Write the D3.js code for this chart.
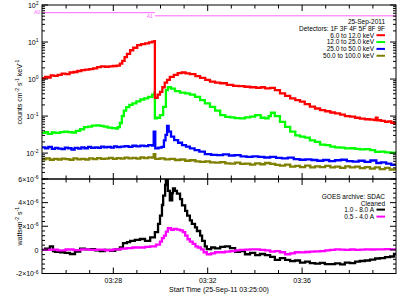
<!DOCTYPE html>
<html>
<head>
<meta charset="utf-8">
<script src="https://d3js.org/d3.v7.min.js"></script>
<style>
  body { margin: 0; background: white; }
  svg { font-family: "Liberation Sans", Arial, sans-serif; }
  text { fill: #000; }
</style>
</head>
<body>
<svg id="chart" width="411" height="299"></svg>
<script>
// times are seconds after 03:25:00 UT on 25-Sep-2011
const bandLabels = ["6.0 to 12.0 keV", "12.0 to 25.0 keV", "25.0 to 50.0 keV", "50.0 to 100.0 keV"];
const goesLabels = ["1.0 - 8.0 A", "0.5 - 4.0 A"];
const xTickLabels = ["03:28", "03:32", "03:36"];
const attStates = ["A0", "A1"];
const attTimes = [0, 287];

const redT = [0, 8, 15, 22, 30, 40, 50, 60, 70, 80, 90, 100, 110, 120, 130, 140, 150, 160, 170, 180, 190, 198, 204, 210, 216, 224, 232, 242, 252, 262, 272, 280, 286, 287, 294, 300, 306, 312, 318, 325, 335, 345, 355, 365, 376, 390, 402, 415, 427, 440, 453, 470, 486, 500, 515, 529, 545, 556, 567, 580, 592, 605, 618, 631, 644, 656, 668, 681, 694, 707, 720, 733, 745, 758, 770, 783, 796, 808, 821, 834, 845, 849, 853, 862, 872, 880, 888, 897];
const redV = [1.05, 1.15, 1.1, 1.25, 1.22, 1.3, 1.4, 1.35, 1.5, 1.55, 1.65, 1.75, 1.8, 1.85, 1.95, 2.1, 2.2, 2.15, 2.2, 2.25, 2.3, 2.6, 3.1, 3.9, 4.8, 6.0, 7.0, 8.2, 8.8, 9.2, 9.8, 10.2, 10.6, 0.31, 0.38, 0.45, 0.6, 0.8, 0.95, 1.15, 1.3, 1.45, 1.5, 1.42, 1.36, 1.2, 1.08, 0.95, 0.85, 0.8, 0.77, 0.7, 0.65, 0.64, 0.62, 0.6, 0.58, 0.6, 0.56, 0.58, 0.5, 0.41, 0.35, 0.3, 0.27, 0.245, 0.21, 0.18, 0.16, 0.145, 0.135, 0.125, 0.118, 0.11, 0.1, 0.096, 0.09, 0.085, 0.082, 0.08, 0.078, 0.09, 0.077, 0.074, 0.07, 0.072, 0.066, 0.064];

const greenT = [0, 8, 15, 25, 35, 46, 56, 66, 76, 86, 97, 107, 117, 127, 137, 147, 157, 167, 178, 188, 193, 198, 203, 208, 214, 222, 230, 240, 250, 260, 270, 280, 286, 287, 292, 300, 308, 315, 320, 328, 338, 351, 364, 376, 389, 402, 414, 427, 440, 453, 466, 478, 490, 503, 516, 529, 542, 556, 567, 576, 582, 592, 605, 618, 631, 644, 656, 668, 681, 694, 707, 720, 733, 745, 758, 770, 783, 796, 808, 821, 834, 847, 860, 872, 885];
const greenV = [0.035, 0.037, 0.033, 0.036, 0.035, 0.037, 0.038, 0.037, 0.036, 0.04, 0.044, 0.05, 0.052, 0.055, 0.056, 0.054, 0.052, 0.049, 0.047, 0.046, 0.05, 0.065, 0.1, 0.14, 0.175, 0.2, 0.22, 0.25, 0.28, 0.3, 0.33, 0.38, 0.43, 0.087, 0.09, 0.106, 0.178, 0.5, 0.6, 0.55, 0.47, 0.43, 0.41, 0.38, 0.33, 0.27, 0.22, 0.178, 0.14, 0.106, 0.095, 0.092, 0.088, 0.087, 0.092, 0.096, 0.106, 0.09, 0.087, 0.1, 0.123, 0.1, 0.07, 0.051, 0.038, 0.03, 0.028, 0.026, 0.022, 0.02, 0.017, 0.0164, 0.015, 0.0143, 0.014, 0.0134, 0.0135, 0.013, 0.0126, 0.0128, 0.012, 0.0108, 0.011, 0.0105, 0.0102];

const blueT = [0, 8, 16, 25, 33, 41, 50, 58, 66, 75, 83, 92, 100, 108, 117, 125, 134, 142, 150, 158, 166, 175, 183, 191, 200, 210, 220, 230, 240, 250, 260, 270, 280, 284, 288, 296, 304, 310, 314, 318, 322, 328, 336, 346, 356, 366, 376, 388, 400, 414, 430, 445, 460, 475, 490, 505, 520, 535, 550, 565, 580, 595, 610, 625, 640, 655, 670, 685, 700, 715, 730, 745, 760, 775, 790, 805, 820, 835, 850, 862, 875, 888];
const blueV = [0.0143, 0.0135, 0.0148, 0.013, 0.0138, 0.0132, 0.0128, 0.014, 0.0135, 0.0125, 0.0138, 0.0132, 0.0142, 0.0135, 0.0148, 0.0138, 0.0143, 0.0138, 0.015, 0.0142, 0.0148, 0.014, 0.0152, 0.0145, 0.015, 0.0155, 0.0148, 0.0158, 0.0152, 0.016, 0.0155, 0.0165, 0.016, 0.038, 0.0134, 0.014, 0.0148, 0.022, 0.031, 0.054, 0.038, 0.028, 0.0225, 0.019, 0.0165, 0.015, 0.0134, 0.012, 0.011, 0.0094, 0.009, 0.0088, 0.0092, 0.0086, 0.0088, 0.0082, 0.0079, 0.0081, 0.0079, 0.0076, 0.0079, 0.0074, 0.0072, 0.0075, 0.0069, 0.0066, 0.0068, 0.0065, 0.0062, 0.0065, 0.0061, 0.0064, 0.0066, 0.0061, 0.0059, 0.0062, 0.0058, 0.0063, 0.0054, 0.0056, 0.0052, 0.0048];

const oliveT = [0, 10, 20, 30, 40, 50, 60, 70, 80, 90, 100, 110, 120, 130, 140, 150, 160, 170, 180, 190, 200, 210, 220, 230, 240, 250, 260, 270, 280, 284, 288, 300, 312, 325, 338, 351, 364, 376, 390, 402, 415, 427, 440, 453, 466, 478, 491, 504, 516, 529, 542, 555, 567, 580, 593, 605, 618, 631, 644, 656, 669, 682, 694, 707, 720, 733, 745, 758, 771, 783, 796, 808, 821, 834, 846, 859, 872, 884];
const oliveV = [0.0068, 0.0072, 0.0066, 0.007, 0.0067, 0.0071, 0.0069, 0.0066, 0.0072, 0.0068, 0.007, 0.0067, 0.0072, 0.0069, 0.0073, 0.007, 0.0071, 0.0074, 0.007, 0.0073, 0.0071, 0.0075, 0.0072, 0.0074, 0.0071, 0.0076, 0.0073, 0.0077, 0.0075, 0.0094, 0.007, 0.0072, 0.0068, 0.007, 0.0065, 0.0067, 0.0062, 0.0064, 0.006, 0.0058, 0.006, 0.0056, 0.0055, 0.0057, 0.0053, 0.0052, 0.0055, 0.0051, 0.0052, 0.0049, 0.0053, 0.005, 0.0054, 0.0051, 0.0048, 0.0046, 0.0049, 0.0043, 0.0045, 0.0042, 0.0046, 0.0041, 0.0044, 0.0042, 0.0045, 0.0041, 0.0043, 0.004, 0.0044, 0.0041, 0.0043, 0.0039, 0.0042, 0.0038, 0.0041, 0.0037, 0.004, 0.0036];

// GOES flux, units of 1e-6 W m^-2
const longT = [0, 8, 20, 28, 33, 46, 58, 71, 84, 97, 109, 122, 135, 147, 160, 173, 186, 198, 206, 216, 224, 236, 249, 262, 275, 287, 295, 300, 305, 308, 313, 315, 320, 325, 331, 333, 338, 343, 351, 356, 364, 369, 376, 381, 389, 394, 402, 407, 414, 419, 430, 440, 453, 465, 478, 491, 503, 516, 529, 542, 554, 567, 580, 592, 605, 618, 631, 643, 656, 669, 681, 694, 707, 719, 732, 745, 758, 770, 783, 796, 808, 821, 834, 847, 859, 872, 885, 895];
const longV = [0, 0.1, 0.3, -0.1, -0.17, -0.2, -0.25, -0.35, -0.15, 0.1, 0.05, 0.06, -0.05, -0.1, 0, -0.08, 0.05, 0.2, 0.57, 0.65, 0.77, 0.85, 0.92, 0.77, 1.05, 1.5, 2.2, 2.9, 3.8, 4.6, 5.5, 6.0, 5.0, 4.2, 4.8, 5.2, 5.0, 4.76, 4.3, 3.76, 3.3, 2.9, 2.5, 2.2, 1.9, 1.6, 1.2, 0.77, 0.3, 0.06, 0.2, 0.12, 0.25, 0.3, 0.15, -0.17, -0.1, -0.37, -0.25, -0.45, -0.35, -0.45, -0.6, -0.85, -0.7, -0.85, -0.95, -0.9, -1.08, -1.0, -1.12, -1.16, -1.1, -1.2, -1.2, -1.15, -1.22, -1.08, -1.12, -1.0, -0.94, -0.9, -0.82, -0.73, -0.7, -0.62, -0.56, -0.35];

const shortT = [0, 20, 40, 60, 80, 100, 120, 140, 160, 180, 200, 215, 230, 249, 262, 275, 290, 300, 305, 310, 315, 320, 328, 335, 343, 351, 358, 364, 370, 376, 383, 390, 396, 404, 411, 419, 430, 440, 453, 465, 478, 491, 503, 516, 529, 542, 554, 567, 580, 592, 605, 618, 631, 643, 656, 669, 681, 694, 707, 720, 732, 745, 758, 770, 783, 796, 808, 821, 834, 847, 859, 872, 885];
const shortV = [0, 0.02, -0.05, 0.03, -0.02, 0.04, 0, 0.02, -0.03, 0.05, 0.1, 0.15, 0.2, 0.2, 0.25, 0.3, 0.45, 0.7, 1.0, 1.2, 1.55, 1.83, 1.7, 1.77, 1.72, 1.65, 1.5, 1.2, 0.9, 0.7, 0.5, 0.3, 0.2, 0.05, -0.2, -0.37, -0.3, -0.2, -0.2, -0.15, -0.1, -0.05, 0, 0.02, 0.05, 0.05, 0, -0.05, -0.15, -0.1, -0.2, -0.37, -0.3, -0.2, -0.22, -0.18, -0.15, -0.12, -0.1, -0.05, 0, 0.05, 0.02, 0, 0.03, 0, 0.02, 0.05, 0.03, 0.04, 0.05, 0.06, 0.05];

// ---- layout ----
const svg = d3.select("#chart");
const L = 42, R = 396, T1 = 5, B1 = 179, T2 = 179, B2 = 273.5;
const t0 = Date.UTC(2011, 8, 25, 3, 25, 0);
const toDate = s => new Date(t0 + s * 1000);
const endDate = toDate(900);

const x = d3.scaleUtc().domain([toDate(0), endDate]).range([L, R]);
const yTop = d3.scaleLog().domain([Math.pow(10, -2.7), 100]).range([B1, T1]);
const yBot = d3.scaleLinear().domain([-2e-6, 6e-6]).range([B2, T2]);

const bandColors = ["#ff0000", "#00ff00", "#0000ff", "#808000"];
const goesColors = ["#000000", "#ff00ff"];
const ink = "#000";
const lw = 2.3;

const defs = svg.append("defs");
defs.append("clipPath").attr("id", "c1").append("rect").attr("x", L).attr("y", T1).attr("width", R - L).attr("height", B1 - T1);
defs.append("clipPath").attr("id", "c2").append("rect").attr("x", L).attr("y", T2).attr("width", R - L).attr("height", B2 - T2);

// text made of plain and superscript pieces
function withSup(textSel, parts) {
  let raised = false;
  parts.forEach(p => {
    const ts = textSel.append("tspan").text(p[0]);
    if (p[1]) {
      ts.attr("font-size", "0.72em").attr("dy", raised ? null : -2.6);
      raised = true;
    } else if (raised) {
      ts.attr("dy", 2.6);
      raised = false;
    }
  });
}

// ---- series ----
function series(tArr, vArr, scale) {
  const pts = tArr.map((t, i) => [toDate(t), vArr[i] * scale]);
  pts.push([endDate, pts[pts.length - 1][1]]);
  return pts;
}
const topLine = d3.line().curve(d3.curveStepAfter).x(d => x(d[0])).y(d => yTop(d[1]));
const botLine = d3.line().curve(d3.curveStepAfter).x(d => x(d[0])).y(d => yBot(d[1]));

const bandData = [[redT, redV], [greenT, greenV], [blueT, blueV], [oliveT, oliveV]];
const gTop = svg.append("g").attr("clip-path", "url(#c1)");
for (let i = bandData.length - 1; i >= 0; i--) {
  gTop.append("path").attr("d", topLine(series(bandData[i][0], bandData[i][1], 1)))
    .attr("fill", "none").attr("stroke", bandColors[i]).attr("stroke-width", lw);
}

// attenuator state line
const attLevels = [62, 51];
attTimes.forEach((t, i) => {
  const x1 = x(toDate(t)), x2 = i + 1 < attTimes.length ? x(toDate(attTimes[i + 1])) : R;
  svg.append("line").attr("x1", x1).attr("x2", x2)
    .attr("y1", yTop(attLevels[i])).attr("y2", yTop(attLevels[i]))
    .attr("stroke", "#ff66ff").attr("stroke-width", 1);
  svg.append("text").attr("x", x1 - 2).attr("y", yTop(attLevels[i]) + 1.8)
    .attr("text-anchor", "end").attr("font-size", 5).style("fill", "#ff66ff").text(attStates[i]);
});

const goesData = [[longT, longV], [shortT, shortV]];
const gBot = svg.append("g").attr("clip-path", "url(#c2)");
goesData.forEach((g, i) => {
  gBot.append("path").attr("d", botLine(series(g[0], g[1], 1e-6)))
    .attr("fill", "none").attr("stroke", goesColors[i]).attr("stroke-width", lw);
});

// ---- frames and ticks ----
[[T1, B1], [T2, B2]].forEach(p => {
  svg.append("rect").attr("x", L).attr("y", p[0]).attr("width", R - L).attr("height", p[1] - p[0])
    .attr("fill", "none").attr("stroke", ink).attr("stroke-width", 1);
});

const minuteTicks = d3.utcMinute.range(toDate(1), endDate);
const majorTimes = xTickLabels.map(s => new Date(Date.UTC(2011, 8, 25, +s.slice(0, 2), +s.slice(3, 5), 0)));
const isMajor = d => majorTimes.some(m => +m === +d);

function xTicks(yPos, sign) {
  const g = svg.append("g").attr("transform", `translate(0,${yPos})`);
  g.call(d3.axisBottom(x).tickValues(minuteTicks).tickSize(0).tickFormat(""));
  g.select(".domain").remove();
  g.selectAll(".tick line").attr("y2", d => sign * (isMajor(d) ? 6 : 3.5)).attr("stroke", ink);
}
xTicks(T1, 1); xTicks(B1, -1); xTicks(T2, 1); xTicks(B2, -1);

// x labels on the lower panel
const gx = svg.append("g").attr("transform", `translate(0,${B2})`);
gx.call(d3.axisBottom(x).tickValues(majorTimes).tickSize(0).tickPadding(5).tickFormat(d3.utcFormat("%H:%M")));
gx.select(".domain").remove();
gx.selectAll("text").attr("font-size", 7).attr("font-family", "Liberation Sans, Arial, sans-serif").style("fill", ink);

svg.append("text").attr("x", (L + R) / 2).attr("y", 291.5).attr("text-anchor", "middle")
  .attr("font-size", 7).text("Start Time (25-Sep-11 03:25:00)");

// log y ticks (top panel)
const decades = [-2, -1, 0, 1, 2];
const logMinor = [];
d3.range(-3, 2).forEach(e => d3.range(2, 10).forEach(m => {
  const v = m * Math.pow(10, e);
  if (v >= yTop.domain()[0] && v <= 100) logMinor.push(v);
}));
function yTickMarks(scale, major, minor, x0, dir) {
  const g = svg.append("g");
  major.forEach(v => g.append("line").attr("x1", x0).attr("x2", x0 + dir * 6)
    .attr("y1", scale(v)).attr("y2", scale(v)).attr("stroke", ink));
  minor.forEach(v => g.append("line").attr("x1", x0).attr("x2", x0 + dir * 3)
    .attr("y1", scale(v)).attr("y2", scale(v)).attr("stroke", ink));
}
const logMajorVals = decades.map(e => Math.pow(10, e));
yTickMarks(yTop, logMajorVals, logMinor, L, 1);
yTickMarks(yTop, logMajorVals, logMinor, R, -1);

const gyl = svg.append("g").attr("transform", `translate(${L},0)`);
gyl.call(d3.axisLeft(yTop).tickValues(logMajorVals).tickSize(0).tickPadding(3.5).tickFormat(""));
gyl.select(".domain").remove();
gyl.selectAll(".tick text").attr("font-size", 7).style("fill", ink)
  .each(function (d) { withSup(d3.select(this), [["10", false], [String(Math.round(Math.log10(d))), true]]); });

// linear y ticks (bottom panel)
const linMajor = [-2e-6, 0, 2e-6, 4e-6, 6e-6];
const linMinor = d3.range(-2e-6, 6.01e-6, 0.4e-6).filter(v => !linMajor.some(m => Math.abs(m - v) < 1e-9));
yTickMarks(yBot, linMajor, linMinor, L, 1);
yTickMarks(yBot, linMajor, linMinor, R, -1);

const gy2 = svg.append("g").attr("transform", `translate(${L},0)`);
gy2.call(d3.axisLeft(yBot).tickValues(linMajor).tickSize(0).tickPadding(3.5).tickFormat(""));
gy2.select(".domain").remove();
gy2.selectAll(".tick text").attr("font-size", 7).style("fill", ink)
  .each(function (d) {
    const m = Math.round(d * 1e6);
    if (m === 0) withSup(d3.select(this), [["0", false]]);
    else withSup(d3.select(this), [[(m < 0 ? "-" : "") + Math.abs(m) + "\u00d710", false], ["-6", true]]);
  });

// axis titles
const yt1 = svg.append("text").attr("transform", `translate(22,${(T1 + B1) / 2}) rotate(-90)`)
  .attr("text-anchor", "middle").attr("font-size", 7);
withSup(yt1, [["counts cm", false], ["-2", true], [" s", false], ["-1", true], [" keV", false], ["-1", true]]);
const yt2 = svg.append("text").attr("transform", `translate(22,${(T2 + B2) / 2}) rotate(-90)`)
  .attr("text-anchor", "middle").attr("font-size", 7);
withSup(yt2, [["watts m", false], ["-2", true], [" s", false], ["-1", true]]);

// ---- legends ----
const lgX = 385;
svg.append("text").attr("x", lgX).attr("y", 24.3).attr("text-anchor", "end").attr("font-size", 6.5).text("25-Sep-2011");
svg.append("text").attr("x", lgX).attr("y", 31).attr("text-anchor", "end").attr("font-size", 6.5).text("Detectors: 1F 3F 4F 5F 8F 9F");
bandLabels.forEach((lab, i) => {
  const yy = 35.2 + i * 6.85;
  svg.append("text").attr("x", lgX - 11).attr("y", yy + 2.3).attr("text-anchor", "end").attr("font-size", 6.5).text(lab);
  svg.append("line").attr("x1", lgX - 8.5).attr("x2", lgX).attr("y1", yy).attr("y2", yy).attr("stroke", bandColors[i]).attr("stroke-width", 2);
});

svg.append("text").attr("x", lgX).attr("y", 198.5).attr("text-anchor", "end").attr("font-size", 6.5).text("GOES archive: SDAC");
svg.append("text").attr("x", lgX).attr("y", 205.5).attr("text-anchor", "end").attr("font-size", 6.5).text("Cleaned");
goesLabels.forEach((lab, i) => {
  const yy = 209.6 + i * 7;
  svg.append("text").attr("x", lgX - 11).attr("y", yy + 2.3).attr("text-anchor", "end").attr("font-size", 6.5).text(lab);
  svg.append("line").attr("x1", lgX - 8.5).attr("x2", lgX).attr("y1", yy).attr("y2", yy).attr("stroke", goesColors[i]).attr("stroke-width", 2);
});
</script>
</body>
</html>
